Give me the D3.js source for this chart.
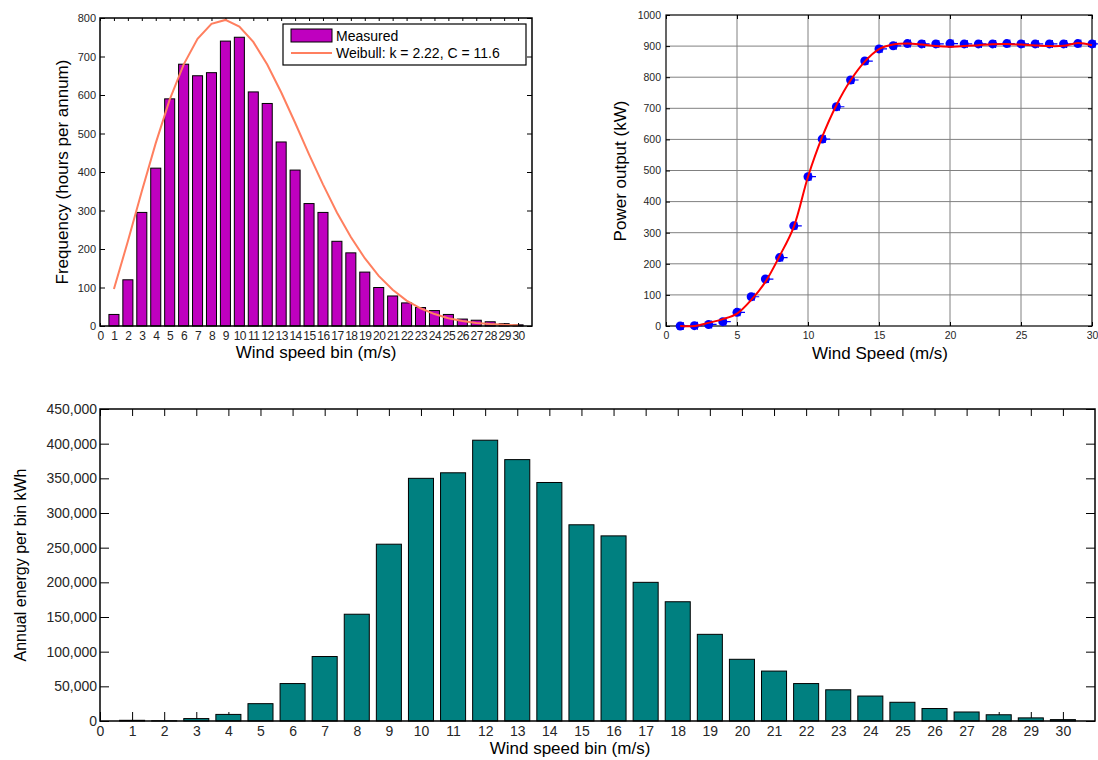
<!DOCTYPE html>
<html>
<head>
<meta charset="utf-8">
<script src="https://cdn.jsdelivr.net/npm/d3@7"></script>
<style>
  body { margin: 0; background: #fff; }
  svg { font-family: "Liberation Sans", Arial, sans-serif; }
  .axis path { display: none; }
  .axis line { stroke: #000; }
  .axis text { fill: #262626; }
</style>
</head>
<body>
<svg id="chart" width="1098" height="760"></svg>
<script>
// Data

const bins = [1, 2, 3, 4, 5, 6, 7, 8, 9, 10, 11, 12, 13, 14, 15,
  16, 17, 18, 19, 20, 21, 22, 23, 24, 25, 26, 27, 28, 29, 30];

// Top left: measured hours per bin and Weibull fit
const measuredHours = [30, 120, 295, 410, 590, 680, 650, 658, 740, 750, 608, 578,
  478, 405, 318, 295, 220, 190, 140, 100, 78, 60, 48, 40, 30, 18, 15, 11, 6, 3];
const weibullHours = [96, 220, 350, 475, 588, 679, 746, 785, 795, 778, 738, 679,
  607, 528, 446, 368, 295, 231, 176, 130, 94, 66, 46, 31, 20, 13, 8, 5, 3, 2];

// Top right: power curve points and fitted line
const powerPoints = [0, 1, 5, 14, 44, 94, 151, 220, 322, 480, 601, 705, 791, 852,
  891, 901, 908, 907, 907, 908, 907, 907, 907, 908, 907, 907, 907, 907, 908, 907];
const powerFit = [0, 0, 10, 22, 40, 84, 142, 225, 319, 480, 608, 710, 790, 850,
  890, 905, 908, 905, 900, 898, 900, 903, 906, 907, 905, 902, 900, 901, 910, 903];

// Bottom: annual energy per bin (kWh)
const energyKWh = [1000, 300, 3500, 9500, 25000, 54000, 93000, 154000, 255000,
  350000, 358000, 405000, 377000, 344000, 283000, 267000, 200000, 172000, 125000,
  89000, 72000, 54000, 45000, 36000, 27000, 18000, 13000, 9000, 4500, 2000];

const tickBins = [0].concat(bins);
const freqTicks = [0, 100, 200, 300, 400, 500, 600, 700, 800];
const powerTicks = [0, 100, 200, 300, 400, 500, 600, 700, 800, 900, 1000];
const speedTicks = [0, 5, 10, 15, 20, 25, 30];
const energyTicks = [0, 50000, 100000, 150000, 200000, 250000, 300000, 350000, 400000, 450000];

const svg = d3.select("#chart");

// ---------- Chart 1: frequency histogram ----------

const c1 = { left: 100, right: 532, top: 18, bottom: 326 };
const x1 = d3.scaleLinear().domain([0, 31]).range([c1.left, c1.right]);
const y1 = d3.scaleLinear().domain([0, 800]).range([c1.bottom, c1.top]);
const g1 = svg.append("g");

g1.append("g").attr("class", "axis")
  .attr("transform", `translate(${c1.left},0)`)
  .call(d3.axisLeft(y1).tickValues(freqTicks).tickSize(-5).tickPadding(4))
  .selectAll("text").style("font-size", "11px");

g1.append("g").attr("class", "axis")
  .attr("transform", `translate(${c1.right},0)`)
  .call(d3.axisRight(y1).tickValues(freqTicks).tickSize(-5).tickFormat(""));

g1.append("g").attr("class", "axis")
  .attr("transform", `translate(0,${c1.top})`)
  .call(d3.axisTop(x1).tickValues(tickBins).tickSize(-3).tickFormat(""));

g1.append("g").attr("class", "axis")
  .attr("transform", `translate(0,${c1.bottom})`)
  .call(d3.axisBottom(x1).tickValues(tickBins).tickSize(-3).tickPadding(5))
  .selectAll("text").style("font-size", "12px").attr("letter-spacing", "-0.5");

const barW1 = (x1(1) - x1(0)) * 0.72;
g1.selectAll("rect.bar")
  .data(bins)
  .enter()
  .append("rect")
  .attr("class", "bar")
  .attr("x", (d) => x1(d) - barW1 / 2)
  .attr("y", (d, i) => y1(measuredHours[i]))
  .attr("width", barW1)
  .attr("height", (d, i) => y1(0) - y1(measuredHours[i]))
  .attr("fill", "#bf00bf")
  .attr("stroke", "#000")
  .attr("stroke-width", 1);

g1.append("path")
  .datum(bins)
  .attr("fill", "none")
  .attr("stroke", "#ff7f5f")
  .attr("stroke-width", 2)
  .attr("d", d3.line().x((d) => x1(d)).y((d, i) => y1(weibullHours[i])));

g1.append("rect")
  .attr("x", c1.left).attr("y", c1.top)
  .attr("width", c1.right - c1.left).attr("height", c1.bottom - c1.top)
  .attr("fill", "none").attr("stroke", "#000").attr("stroke-width", 1.5);

// Legend
const lg = g1.append("g");
lg.append("rect").attr("x", 283).attr("y", 24).attr("width", 243).attr("height", 41)
  .attr("fill", "#fff").attr("stroke", "#000").attr("stroke-width", 1.2);
lg.append("rect").attr("x", 291).attr("y", 29).attr("width", 41).attr("height", 13)
  .attr("fill", "#bf00bf").attr("stroke", "#000");
lg.append("line").attr("x1", 291).attr("x2", 332).attr("y1", 53).attr("y2", 53)
  .attr("stroke", "#ff7f5f").attr("stroke-width", 2);
lg.append("text").attr("x", 336).attr("y", 41).text("Measured")
  .style("font-size", "14px").attr("fill", "#000");
lg.append("text").attr("x", 336).attr("y", 58).text("Weibull: k = 2.22, C = 11.6")
  .style("font-size", "14px").attr("fill", "#000");

g1.append("text")
  .attr("transform", "translate(68,172) rotate(-90)")
  .attr("text-anchor", "middle")
  .style("font-size", "17px")
  .text("Frequency (hours per annum)");

g1.append("text")
  .attr("x", 316).attr("y", 358)
  .attr("text-anchor", "middle")
  .style("font-size", "17px")
  .text("Wind speed bin (m/s)");

// ---------- Chart 2: power curve ----------

const c2 = { left: 666, right: 1092, top: 15, bottom: 326 };
const x2 = d3.scaleLinear().domain([0, 30]).range([c2.left, c2.right]);
const y2 = d3.scaleLinear().domain([0, 1000]).range([c2.bottom, c2.top]);
const g2 = svg.append("g");

// Grid
g2.selectAll("line.gx")
  .data(speedTicks.slice(1, -1))
  .enter().append("line")
  .attr("x1", (d) => x2(d)).attr("x2", (d) => x2(d))
  .attr("y1", c2.top).attr("y2", c2.bottom)
  .attr("stroke", "#808080").attr("stroke-width", 1);
g2.selectAll("line.gy")
  .data(powerTicks.slice(1, -1))
  .enter().append("line")
  .attr("x1", c2.left).attr("x2", c2.right)
  .attr("y1", (d) => y2(d)).attr("y2", (d) => y2(d))
  .attr("stroke", "#808080").attr("stroke-width", 1);

g2.append("g").attr("class", "axis")
  .attr("transform", `translate(${c2.left},0)`)
  .call(d3.axisLeft(y2).tickValues(powerTicks).tickSize(-4).tickPadding(5)
    .tickFormat(d3.format("d")))
  .selectAll("text").style("font-size", "10.5px");
g2.append("g").attr("class", "axis")
  .attr("transform", `translate(${c2.right},0)`)
  .call(d3.axisRight(y2).tickValues(powerTicks).tickSize(-4).tickFormat(""));
g2.append("g").attr("class", "axis")
  .attr("transform", `translate(0,${c2.top})`)
  .call(d3.axisTop(x2).tickValues(speedTicks).tickSize(-4).tickFormat(""));
g2.append("g").attr("class", "axis")
  .attr("transform", `translate(0,${c2.bottom})`)
  .call(d3.axisBottom(x2).tickValues(speedTicks).tickSize(-4).tickPadding(6))
  .selectAll("text").style("font-size", "10.5px");

g2.append("rect")
  .attr("x", c2.left).attr("y", c2.top)
  .attr("width", c2.right - c2.left).attr("height", c2.bottom - c2.top)
  .attr("fill", "none").attr("stroke", "#000").attr("stroke-width", 1.2);

// Points: filled circle with a plus marker
const pts = g2.selectAll("g.pt")
  .data(bins)
  .enter().append("g")
  .attr("transform", (d, i) => `translate(${x2(d)},${y2(powerPoints[i])})`);
pts.append("circle").attr("r", 4.5).attr("fill", "#0000ff");
pts.append("path").attr("d", "M-1,0H8M3,-4V4")
  .attr("stroke", "#0000ff").attr("stroke-width", 1.2);

g2.append("path")
  .datum(bins)
  .attr("fill", "none")
  .attr("stroke", "#ff0000")
  .attr("stroke-width", 2)
  .attr("d", d3.line().curve(d3.curveCatmullRom)
    .x((d) => x2(d)).y((d, i) => y2(powerFit[i])));

g2.append("text")
  .attr("transform", "translate(626,171) rotate(-90)")
  .attr("text-anchor", "middle")
  .style("font-size", "17px")
  .text("Power output (kW)");

g2.append("text")
  .attr("x", 880).attr("y", 359)
  .attr("text-anchor", "middle")
  .style("font-size", "17px")
  .text("Wind Speed (m/s)");

// ---------- Chart 3: annual energy ----------

const c3 = { left: 100, right: 1095, top: 409, bottom: 721 };
const x3 = d3.scaleLinear().domain([0, 31]).range([c3.left, c3.right]);
const y3 = d3.scaleLinear().domain([0, 450000]).range([c3.bottom, c3.top]);
const g3 = svg.append("g");

g3.append("g").attr("class", "axis")
  .attr("transform", `translate(${c3.left},0)`)
  .call(d3.axisLeft(y3).tickValues(energyTicks).tickSize(-9).tickPadding(3)
    .tickFormat(d3.format(",")))
  .selectAll("text").style("font-size", "14px");
g3.append("g").attr("class", "axis")
  .attr("transform", `translate(${c3.right},0)`)
  .call(d3.axisRight(y3).tickValues(energyTicks).tickSize(-9).tickFormat(""));
g3.append("g").attr("class", "axis")
  .attr("transform", `translate(0,${c3.top})`)
  .call(d3.axisTop(x3).tickValues(tickBins).tickSize(-7).tickFormat(""));
g3.append("g").attr("class", "axis")
  .attr("transform", `translate(0,${c3.bottom})`)
  .call(d3.axisBottom(x3).tickValues(tickBins).tickSize(-9).tickPadding(5))
  .selectAll("text").style("font-size", "14px");

const barW3 = (x3(1) - x3(0)) * 0.78;
g3.selectAll("rect.bar")
  .data(bins)
  .enter()
  .append("rect")
  .attr("class", "bar")
  .attr("x", (d) => x3(d) - barW3 / 2)
  .attr("y", (d, i) => y3(energyKWh[i]))
  .attr("width", barW3)
  .attr("height", (d, i) => y3(0) - y3(energyKWh[i]))
  .attr("fill", "#008080")
  .attr("stroke", "#000")
  .attr("stroke-width", 1);

g3.append("rect")
  .attr("x", c3.left).attr("y", c3.top)
  .attr("width", c3.right - c3.left).attr("height", c3.bottom - c3.top)
  .attr("fill", "none").attr("stroke", "#000").attr("stroke-width", 1.5);

g3.append("text")
  .attr("transform", "translate(26,565) rotate(-90)")
  .attr("text-anchor", "middle")
  .style("font-size", "16px")
  .text("Annual energy per bin kWh");

g3.append("text")
  .attr("x", 570).attr("y", 754)
  .attr("text-anchor", "middle")
  .style("font-size", "17px")
  .text("Wind speed bin (m/s)");
</script>
</body>
</html>
